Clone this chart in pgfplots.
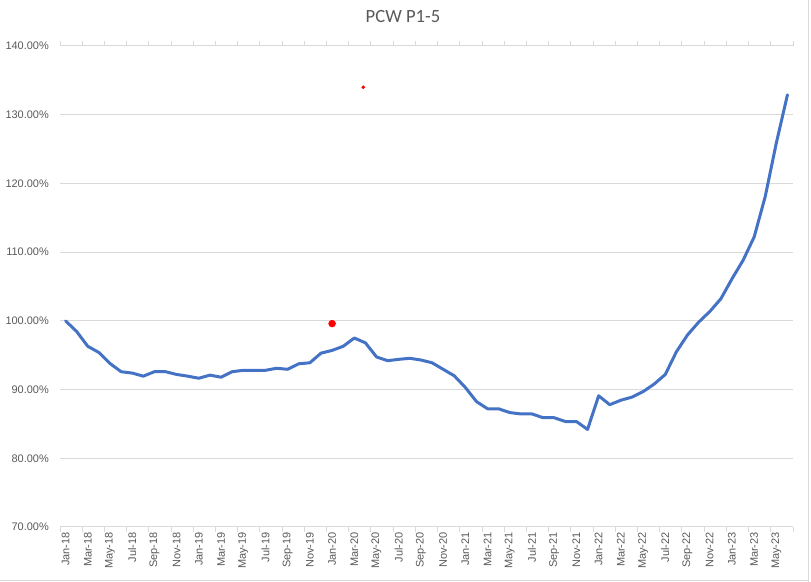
\documentclass[border=0pt]{standalone}
\usepackage{fontspec}
\setmainfont{Carlito}
\newfontfamily\tickfont{Liberation Sans}
\usepackage{pgfplots}
\pgfplotsset{compat=1.18}
\definecolor{xlblue}{HTML}{4472C4}
\definecolor{xlgrid}{HTML}{D9D9D9}
\definecolor{xltext}{HTML}{595959}
\begin{document}
\begin{tikzpicture}[x=1bp,y=1bp]
\path[use as bounding box] (0,0) rectangle (811,582);
\draw[xlgrid, line width=1bp] (0,1.5) -- (808,1.5);
\draw[xlgrid, line width=1bp] (808,0) -- (808,582);
\node[text=xltext, font=\fontsize{18.7}{22}\selectfont] at (403,565) {PCW P1-5};
\begin{axis}[
  at={(60bp,55bp)}, anchor=south west,
  width=733bp, height=481bp, scale only axis,
  xmin=-0.5, xmax=65.5, ymin=70, ymax=140,
  ytick={70,80,...,140},
  yticklabel={\pgfmathprintnumber[fixed,fixed zerofill,precision=2,assume math mode=true]{\tick}\%},
  ymajorgrids,
  grid style={xlgrid, line width=1bp},
  axis line style={draw=none},
  major tick length=0pt,
  xtick={0,2,...,64},
  xticklabels={Jan-18,Mar-18,May-18,Jul-18,Sep-18,Nov-18,Jan-19,Mar-19,May-19,Jul-19,Sep-19,Nov-19,Jan-20,Mar-20,May-20,Jul-20,Sep-20,Nov-20,Jan-21,Mar-21,May-21,Jul-21,Sep-21,Nov-21,Jan-22,Mar-22,May-22,Jul-22,Sep-22,Nov-22,Jan-23,Mar-23,May-23},
  minor xtick={-0.5,1.5,...,65.5},
  minor tick length=5bp,
  tick align=outside,
  minor tick style={xlgrid, line width=1bp},
  tick label style={text=xltext, font=\tickfont\fontsize{11}{13}\selectfont},
  xticklabel style={rotate=90, anchor=east, inner sep=1bp},
  yticklabel style={anchor=east, inner sep=0bp},
  xticklabel shift=4bp,
  yticklabel shift=11bp,
  clip=false,
]
\addplot[xlblue, line width=3bp, line join=round, line cap=round] coordinates {
(0,100) (1,98.45) (2,96.3) (3,95.4) (4,93.8) (5,92.6) (6,92.4) (7,91.95) (8,92.6) (9,92.6)
(10,92.2) (11,91.95) (12,91.65) (13,92.1) (14,91.8) (15,92.6) (16,92.8) (17,92.8) (18,92.8) (19,93.1)
(20,92.95) (21,93.75) (22,93.9) (23,95.3) (24,95.7) (25,96.3) (26,97.5) (27,96.8) (28,94.75) (29,94.2)
(30,94.4) (31,94.55) (32,94.3) (33,93.9) (34,92.95) (35,92.0) (36,90.3) (37,88.25) (38,87.2) (39,87.2)
(40,86.65) (41,86.45) (42,86.45) (43,85.9) (44,85.9) (45,85.35) (46,85.35) (47,84.2) (48,89.1) (49,87.8)
(50,88.45) (51,88.9) (52,89.7) (53,90.8) (54,92.2) (55,95.5) (56,97.95) (57,99.8) (58,101.35) (59,103.2)
(60,106.1) (61,108.8) (62,112.2) (63,118.1) (64,125.9) (65,132.9)
};
\addplot[only marks, mark=*, mark size=3.5bp, red, mark options={draw=red, fill=red}] coordinates {(24,99.6)};
\addplot[only marks, mark=*, mark size=1.6bp, red, mark options={draw=red, fill=red}] coordinates {(26.8,134.0)};
\end{axis}
\end{tikzpicture}
\end{document}
